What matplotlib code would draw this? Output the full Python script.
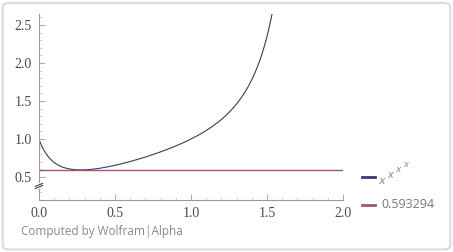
import numpy as np
import matplotlib.pyplot as plt
from matplotlib.patches import FancyBboxPatch
from matplotlib.lines import Line2D

# values of x^x^x^x
x_vals = [0.0, 0.001, 0.0025, 0.005, 0.01, 0.015, 0.02, 0.03, 0.04, 0.05, 0.0625, 0.075,
          0.0875, 0.1, 0.1125, 0.125, 0.15, 0.175, 0.2, 0.225, 0.25, 0.275, 0.3, 0.325,
          0.35, 0.375, 0.4, 0.425, 0.45, 0.475, 0.5, 0.525, 0.55, 0.575, 0.6, 0.625,
          0.65, 0.675, 0.7, 0.725, 0.75, 0.775, 0.8, 0.825, 0.85, 0.875, 0.9, 0.925,
          0.95, 0.975, 1.0, 1.025, 1.05, 1.075, 1.1, 1.125, 1.15, 1.175, 1.2, 1.225,
          1.25, 1.275, 1.3, 1.325, 1.35, 1.375, 1.4, 1.425, 1.45, 1.465, 1.48, 1.49,
          1.5, 1.51, 1.52, 1.525, 1.53, 1.535, 1.54]
y_vals = [1.0, 0.9928, 0.9838, 0.970, 0.945, 0.9218, 0.900, 0.861, 0.827, 0.797, 0.7639, 0.736,
          0.7116, 0.691, 0.6733, 0.658, 0.634, 0.6173, 0.606, 0.5984, 0.5945, 0.5933, 0.5943, 0.5974,
          0.602, 0.6081, 0.615, 0.6237, 0.633, 0.6431, 0.654, 0.6656, 0.6779, 0.6907, 0.704, 0.7182,
          0.7327, 0.7477, 0.763, 0.7794, 0.796, 0.8132, 0.831, 0.8494, 0.8684, 0.8882, 0.909, 0.9301,
          0.9523, 0.9756, 1.0, 1.0256, 1.0527, 1.0813, 1.112, 1.1442, 1.179, 1.2165, 1.257, 1.3012,
          1.3495, 1.4026, 1.462, 1.5272, 1.601, 1.6845, 1.780, 1.8905, 2.019, 2.106, 2.203, 2.2734,
          2.349, 2.431, 2.519, 2.5653, 2.614, 2.6647, 2.718]
const_val = 0.593294
const_x = [0.0, 2.0]
const_label = '0.593294'

xticks = [0.0, 0.5, 1.0, 1.5, 2.0]
yticks = [0.5, 1.0, 1.5, 2.0, 2.5]

c_curve = '#3b3a6e'
c_const = '#a0566e'
c_axis = '#9a9a9a'
c_text = '#4a4a4a'
W, H = 453, 252

fig = plt.figure(figsize=(W / 100, H / 100), dpi=100)
fig.patch.set_facecolor('white')
frame = FancyBboxPatch((0.006, 0.01), 0.988, 0.978, boxstyle='round,pad=0,rounding_size=0.015',
                       transform=fig.transFigure, facecolor='white', edgecolor='#dcdcdc',
                       lw=1.6, zorder=-10)
fig.patches.append(frame)

ax = fig.add_axes([0.0861, 0.2063, 0.671, 0.738])
ax.set_facecolor('none')
l1, = ax.plot(x_vals, y_vals, color=c_curve, lw=0.8)
l2, = ax.plot(const_x, [const_val] * 2, color=c_const, lw=1.0)
ax.set_xlim(0, 2.0)
ax.set_ylim(0.197, 2.645)

for s in ['top', 'right']:
    ax.spines[s].set_visible(False)
for s in ['left', 'bottom']:
    ax.spines[s].set_color(c_axis)
    ax.spines[s].set_linewidth(0.8)

ax.set_xticks(xticks)
ax.set_yticks(yticks)
ax.set_xticks(np.arange(0, 2.001, 0.1), minor=True)
ax.set_yticks(np.arange(0.3, 2.65, 0.1), minor=True)
ax.tick_params(which='major', direction='in', length=4, width=0.6, color=c_axis,
               labelsize=10, labelcolor=c_text, pad=5)
ax.tick_params(which='minor', direction='in', length=2, width=0.5, color='#c0c0c0')
ax.set_xticklabels([f'{t:.1f}' for t in xticks], family='Liberation Serif')
ax.set_yticklabels([f'{t:.1f}' for t in yticks], family='Liberation Serif')

# axis break marks
tr = ax.get_yaxis_transform()
ax.plot([0, 0], [0.362, 0.402], transform=tr, color='white', lw=2, clip_on=False, zorder=5)
for yb in (0.368, 0.396):
    ax.plot([-0.012, 0.012], [yb - 0.02, yb + 0.02], transform=tr, color='#444444',
            lw=0.8, clip_on=False, zorder=6)

# legend
def fx(px):
    return px / W

def fy(py):
    return 1 - py / H

for yy, col in ((177, c_curve), (205, c_const)):
    fig.add_artist(Line2D([fx(362), fx(375)], [fy(yy), fy(yy)], color=col, lw=2,
                          transform=fig.transFigure))
for px, py, fs in [(382, 180.5, 8), (390, 175, 7), (398, 169.5, 6.5), (406, 164.5, 6)]:
    fig.text(fx(px), fy(py), 'x', style='italic', color='#888888', fontsize=fs,
             family='DejaVu Sans', ha='center', va='center')
fig.text(fx(381), fy(205), const_label, color='#777777', fontsize=9, family='Open Sans',
         va='center')

fig.text(0.046, 0.082, 'Computed by Wolfram|Alpha', color='#8a8a8a', fontsize=8.5,
         family='Open Sans', va='center')

fig.savefig('out.png', dpi=100)
